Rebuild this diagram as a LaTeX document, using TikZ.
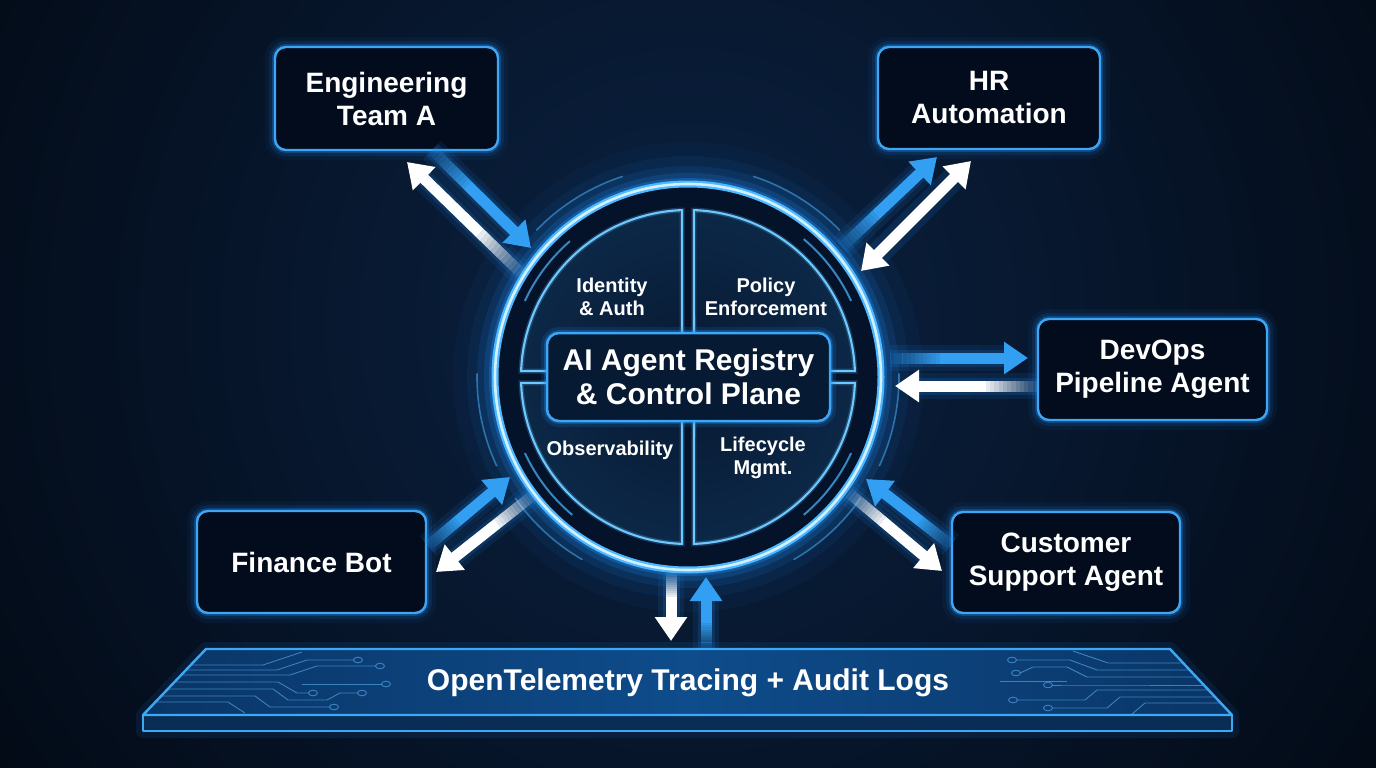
\documentclass[tikz,border=0pt]{standalone}
\usepackage{fontspec}
\setmainfont{Liberation Sans}
\usetikzlibrary{arrows.meta,calc}

\definecolor{bg}{HTML}{020812}
\definecolor{bgmid}{HTML}{0B2242}
\definecolor{band}{HTML}{04122A}
\definecolor{quadin}{HTML}{071830}
\definecolor{quadout}{HTML}{10355A}
\definecolor{quadline}{HTML}{6CC8FF}
\definecolor{ringc}{HTML}{4DB8FF}
\definecolor{ringhi}{HTML}{D2F0FF}
\definecolor{glowc}{HTML}{1E8BF0}
\definecolor{boxline}{HTML}{3FA6F5}
\definecolor{boxfill}{HTML}{030C1C}
\definecolor{cbfill}{HTML}{061A33}
\definecolor{arrblue}{HTML}{329FF2}
\definecolor{platline}{HTML}{3DA8F5}
\definecolor{platA}{HTML}{0A3566}
\definecolor{platB}{HTML}{0E4C8B}
\definecolor{platfront}{HTML}{0A2D55}
\definecolor{trace}{HTML}{4A9BDB}

\tikzset{
  glowbox/.style={rounded corners=11pt, fill=boxfill, draw=boxline, line width=2.4pt,
    text=white, font=\fontsize{28}{33}\selectfont\bfseries, align=center, inner sep=0pt,
    preaction={draw=glowc, line width=20pt, draw opacity=0.06},
    preaction={draw=glowc, line width=12pt, draw opacity=0.12},
    preaction={draw=glowc, line width=6pt, draw opacity=0.3}},
  quadtxt/.style={text=white, font=\fontsize{20}{23.5}\selectfont\bfseries, align=center},
  tracel/.style={draw=trace, line width=0.9pt, draw opacity=0.75},
  traced/.style={draw=trace, line width=0.9pt, draw opacity=0.75, x radius=4.5, y radius=2.8},
  tip/.style={-{Triangle[width=31pt,length=24pt]}},
}

\newcommand\flowarrow[3]{%
  \draw[glowc, line width=26pt, draw opacity=0.10, shorten >=22pt] (#2) -- (#3);
  \draw[glowc, line width=17pt, draw opacity=0.16, shorten >=22pt] (#2) -- (#3);
  \foreach \i in {0,...,11}{
    \pgfmathsetmacro\s{\i*0.03}\pgfmathsetmacro\e{\i*0.03+0.0305}\pgfmathsetmacro\o{0.08+\i*0.075}
    \draw[#1, line width=11pt, draw opacity=\o] ($(#2)!\s!(#3)$) -- ($(#2)!\e!(#3)$);}
  \draw[#1, line width=11pt, tip] ($(#2)!0.36!(#3)$) -- (#3);
}

\begin{document}
\begin{tikzpicture}[x=1pt,y=-1pt]
\useasboundingbox (0,0) rectangle (1376,768);
\clip (0,0) rectangle (1376,768);
% background
\fill[bg] (0,0) rectangle (1376,768);
\shade[inner color=bgmid, outer color=bg] (688,320) circle (900);

\coordinate (c) at (688,377);

% halo around ring
\foreach \w/\o in {84/0.045,56/0.07,36/0.11,22/0.18,12/0.32}{
  \draw[glowc, line width=\w pt, draw opacity=\o] (c) circle (193);}
\fill[band] (c) circle (193);

% faint outer arcs
\foreach \a/\b in {120/145,155/181,224/252,288/316,359/385,35/60}{
  \draw[ringc, line width=1.6pt, draw opacity=0.5] ($(c)+(\a:211)$) arc[start angle=\a, end angle=\b, radius=211];}

% quadrants
\begin{scope}
  \clip (c) circle (167);
  \shade[inner color=quadin, outer color=quadout] (c) circle (300);
  \fill[band] (682,200) rectangle (694,560);
  \fill[band] (500,371) rectangle (880,383);
\end{scope}
\foreach \q/\sx/\sy/\a/\b in {tl/-6/-6/182/268, tr/6/-6/272/358, br/6/6/2/88, bl/-6/6/92/178}{
  \draw[quadline, line width=5pt, draw opacity=0.22] ($(c)+(\sx,\sy)$) -- ($(c)+(\a:167)$) arc[start angle=\a, end angle=\b, radius=167] -- cycle;
  \draw[quadline, line width=2.1pt] ($(c)+(\sx,\sy)$) -- ($(c)+(\a:167)$) arc[start angle=\a, end angle=\b, radius=167] -- cycle;}

% inner arcs in band
\foreach \a/\b in {205/229,310/335,25/50,130/155}{
  \draw[ringc, line width=2pt, draw opacity=0.7] ($(c)+(\a:180)$) arc[start angle=\a, end angle=\b, radius=180];}

% ring
\draw[ringc, line width=7pt] (c) circle (193);
\draw[ringhi, line width=2.6pt] (c) circle (193);

% central box
\node[rounded corners=12pt, fill=cbfill, draw=boxline, line width=2.5pt,
  preaction={draw=glowc, line width=12pt, draw opacity=0.15},
  preaction={draw=glowc, line width=6pt, draw opacity=0.3},
  minimum width=283pt, minimum height=88pt, inner sep=0pt, text=white,
  font=\fontsize{30}{34}\selectfont\bfseries, align=center] (core) at (688.5,377) {AI Agent Registry\\\& Control Plane};

\node[quadtxt] (idq) at (612,297) {Identity\\\& Auth};
\node[quadtxt] (polq) at (766,297) {Policy\\Enforcement};
\node[quadtxt] (obsq) at (610,450) {Observability};
\node[quadtxt] (lifq) at (763,458) {Lifecycle\\Mgmt.};

% outer boxes
\node[glowbox, minimum width=223pt, minimum height=103pt] (eng) at (386.5,98.5) {Engineering\\Team A};
\node[glowbox, minimum width=222pt, minimum height=102pt] (hr) at (989,98) {HR\\Automation};
\node[glowbox, minimum width=229pt, minimum height=101pt] (dev) at (1152.5,369.5) {DevOps\\Pipeline Agent};
\node[glowbox, minimum width=228pt, minimum height=101pt] (cs) at (1066,562.5) {Customer\\Support Agent};
\node[glowbox, minimum width=229pt, minimum height=102pt] (fin) at (311.5,562) {Finance Bot};

% arrow end points
\coordinate (engB0) at (432,150);  \coordinate (engB1) at (531,248);
\coordinate (engW0) at (521,273);  \coordinate (engW1) at (407,162);
\coordinate (hrB0)  at (842,247);  \coordinate (hrB1)  at (937,157);
\coordinate (hrW0)  at (861,271);  \coordinate (hrW1)  at (971,161);
\coordinate (devB0) at (890,358);  \coordinate (devB1) at (1028,358);
\coordinate (devW0) at (1037,386); \coordinate (devW1) at (895,386);
\coordinate (csB0)  at (951,545);  \coordinate (csB1)  at (866,479);
\coordinate (csW0)  at (849,493);  \coordinate (csW1)  at (942,571);
\coordinate (finB0) at (428,546);  \coordinate (finB1) at (510,477);
\coordinate (finW0) at (532,496);  \coordinate (finW1) at (436,572);
\coordinate (botW0) at (671,573);  \coordinate (botW1) at (671,641);
\coordinate (botB0) at (706,649);  \coordinate (botB1) at (706,577);

\flowarrow{arrblue}{engB0}{engB1}
\flowarrow{white}{engW0}{engW1}
\flowarrow{arrblue}{hrB0}{hrB1}
\draw[glowc, line width=24pt, draw opacity=0.14, shorten >=22pt, shorten <=22pt] (hrW0) -- (hrW1);
\draw[white, line width=11pt, {Triangle[width=31pt,length=24pt]}-{Triangle[width=31pt,length=24pt]}] (hrW0) -- (hrW1);
\flowarrow{arrblue}{devB0}{devB1}
\flowarrow{white}{devW0}{devW1}
\flowarrow{arrblue}{csB0}{csB1}
\flowarrow{white}{csW0}{csW1}
\flowarrow{arrblue}{finB0}{finB1}
\flowarrow{white}{finW0}{finW1}
\flowarrow{white}{botW0}{botW1}
\flowarrow{arrblue}{botB0}{botB1}

% platform
\draw[glowc, line width=14pt, draw opacity=0.10, line join=round] (206,649) -- (1170,649) -- (1232,715) -- (1232,731) -- (143,731) -- (143,715) -- cycle;
\shade[left color=platA, right color=platA, middle color=platB] (206,649) -- (1170,649) -- (1232,715) -- (143,715) -- cycle;
\fill[platfront] (143,715) rectangle (1232,731);
% traces left
\draw[tracel] (191,665) -- (263,665) -- (302,652);
\draw[tracel] (186,670) -- (277,670) -- (307,660) -- (354,660);
\draw[traced] (358,660) ellipse[];
\draw[tracel] (181,675) -- (290,675) -- (317,666) -- (376,666);
\draw[traced] (380,666) ellipse[];
\draw[tracel] (302,684) -- (382,684);
\draw[traced] (386,684) ellipse[];
\draw[tracel] (175,682) -- (278,682) -- (297,693) -- (309,693);
\draw[traced] (313,693) ellipse[];
\draw[tracel] (168,689) -- (273,689) -- (288,700) -- (327,700) -- (340,693) -- (358,693);
\draw[traced] (362,693) ellipse[];
\draw[tracel] (161,696) -- (255,696) -- (270,707) -- (330,707);
\draw[traced] (334,707) ellipse[];
\draw[tracel] (156,702) -- (228,702) -- (245,713);
% traces right
\draw[tracel] (1073,651) -- (1108,663) -- (1183,663);
\draw[traced] (1012,660) ellipse[];
\draw[tracel] (1016,660) -- (1070,660) -- (1097,670) -- (1190,670);
\draw[traced] (1016,673) ellipse[];
\draw[tracel] (1020,673) -- (1033,667) -- (1067,667) -- (1087,677) -- (1196,677);
\draw[tracel] (1000,681) -- (1067,681);
\draw[tracel] (1052,685) -- (1070,685) -- (1097,685) -- (1204,685);
\draw[traced] (1048,685) ellipse[];
\draw[traced] (1013,700) ellipse[];
\draw[tracel] (1017,700) -- (1085,700) -- (1097,690) -- (1208,690);
\draw[traced] (1048,708) ellipse[];
\draw[tracel] (1052,708) -- (1107,708) -- (1120,697) -- (1215,697);
\draw[tracel] (1132,714) -- (1145,703) -- (1221,703);
% platform outlines
\draw[platline, line width=2.4pt, line join=round] (206,649) -- (1170,649) -- (1232,715) -- (143,715) -- cycle;
\draw[platline, line width=2.4pt, line join=round] (143,715) -- (143,731) -- (1232,731) -- (1232,715);
\node[text=white, font=\fontsize{30}{34}\selectfont\bfseries] (otel) at (688,683) {OpenTelemetry Tracing + Audit Logs};
\end{tikzpicture}
\end{document}
